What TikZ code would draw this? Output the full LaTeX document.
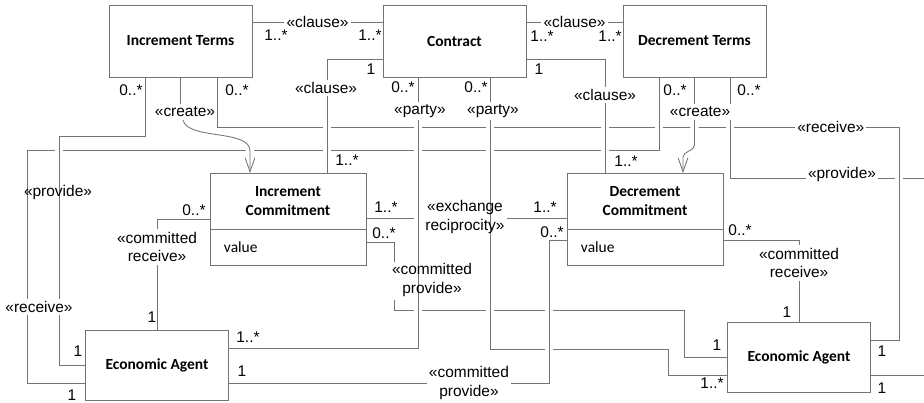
\documentclass[tikz,border=0pt]{standalone}
\usepackage{fontspec}
\setmainfont{Liberation Sans}
\newfontfamily\calibri{Carlito}
\usetikzlibrary{arrows.meta, shapes.multipart, calc}
\colorlet{linegray}{black!55}

\begin{document}
\begin{tikzpicture}[x=0.025cm, y=-0.025cm,
  termbox/.style={rectangle, draw=linegray, fill=white,
                  minimum width=3.575cm, minimum height=1.8cm,
                  font=\fontsize{11}{14}\selectfont\calibri\bfseries},
  agentbox/.style={termbox, minimum height=1.75cm},
  combox/.style={rectangle split, rectangle split parts=2,
                 draw=linegray, fill=white, text width=3.2cm,
                 inner xsep=0.35cm, inner ysep=9pt,
                 font=\fontsize{11}{14}\selectfont\calibri},
  conn/.style={draw=linegray, line width=0.6pt},
  over/.style={preaction={draw=white, line width=6pt, arrows=-,
                          shorten <=4pt, shorten >=4pt}},
  dep/.style={conn, -{Straight Barb[length=10pt, width=7pt]}},
  lbl/.style={fill=white, inner xsep=1.5pt, inner ysep=0pt, align=center,
              font=\fontsize{11}{13}\selectfont},
  bare/.style={lbl, fill=none},
  mult/.style={inner sep=0pt, font=\fontsize{11}{13}\selectfont}
]
\useasboundingbox (0,0) rectangle (924,402);

\node[termbox] (incterms) at (180.5,41) {Increment Terms};
\node[termbox] (contract) at (454.5,41) {Contract};
\node[termbox] (decterms) at (694.5,41) {Decrement Terms};
\node[combox, anchor=north] (inccom) at (288,173)
  {\makebox[3.2cm]{\bfseries Increment}\\\makebox[3.2cm]{\bfseries Commitment}\nodepart{two}value};
\node[combox, anchor=north] (deccom) at (645,173)
  {\makebox[3.2cm]{\bfseries Decrement}\\\makebox[3.2cm]{\bfseries Commitment}\nodepart{two}value};
\node[agentbox] (agentL) at (157,365) {Economic Agent};
\node[agentbox] (agentR) at (799,357.5) {Economic Agent};

\coordinate (rcvturn) at (899,127);
\coordinate (xchl) at (417,218); \coordinate (xchr) at (507,218);
\coordinate (cpvtop) at (394,262); \coordinate (cpvbot) at (394,300);

\draw[conn] ($(incterms.east)+(0,-19)$) -- node[lbl] (lb1) {«clause»} ($(contract.west)+(0,-19)$);
\draw[conn] ($(contract.east)+(0,-19)$) -- node[lbl] (lb2) {«clause»} ($(decterms.west)+(0,-19)$);

\draw[conn] ($(incterms.south)+(36.5,0)$) |- node[lbl, pos=0.95] (lb3) {«receive»} (rcvturn);
\draw[conn, over] ($(decterms.south)+(35.5,0)$) |- (950,178) |- ($(agentR.east)+(0,17.5)$);
\node[lbl] (lb4) at (842,174) {«provide»};
\draw[conn, over] (rcvturn) |- ($(agentR.east)+(0,-17.5)$);
\draw[conn, over] ($(decterms.south)+(-35.5,0)$) |- (27,150) |- ($(agentL.south west)+(0,-17)$);
\draw[conn, over] ($(incterms.south)+(-35.5,0)$) |- (59,136) |- (agentL.west);
\node[bare] (lb5) at (58,192) {«provide»};
\node[lbl, inner ysep=2pt] (lb6) at (39,307) {«receive»};

\draw[conn, over] ($(contract.west)+(0,18)$) -| ($(inccom.north)+(39,0)$);
\node[lbl, inner ysep=2pt] (lb7) at (326,88) {«clause»};
\draw[conn, over] ($(contract.east)+(0,18)$) -| ($(deccom.north)+(-40,0)$);
\node[lbl, inner ysep=2pt] (lb8) at (605,95) {«clause»};

\node[lbl, inner ysep=2pt] (lb9) at (185,112) {«create»};
\draw[conn] (incterms.south) -- (incterms.south |- lb9.north);
\draw[dep, over] ($(lb9.south)+(-2,0)$) .. controls +(5,20) and +(0,-22) .. ($(inccom.north)+(-38,-22)$) -- ($(inccom.north)+(-38,0)$);
\node[lbl, inner ysep=2pt] (lb10) at (700,112) {«create»};
\draw[conn] (decterms.south) -- (decterms.south |- lb10.north);
\draw[dep, over] (decterms.south |- lb10.south) -- ++(0,25) .. controls +(0,6) and +(0,-6) .. ($(deccom.north)+(38,-16)$) -- ($(deccom.north)+(38,0)$);

\draw[conn] ($(inccom.north east)+(0,45)$) -- (xchl);
\draw[conn] (xchr) -- ($(deccom.north west)+(0,45)$);
\draw[conn] ($(inccom.north east)+(0,69)$) -| (cpvtop);
\draw[conn] (cpvbot) |- (684,310) |- (agentR.west);

\draw[conn, over] ($(contract.south)+(-36.5,0)$) |- ($(agentL.east)+(0,-17)$);
\node[lbl, inner ysep=2pt] (lb11) at (420,111) {«party»};
\draw[conn, over] ($(contract.south)+(35.5,0)$) |- (668,349) |- ($(agentR.west)+(0,17.5)$);
\node[lbl, inner ysep=2pt] (lb12) at (493,111) {«party»};
\draw[conn, over] ($(deccom.north west)+(0,67)$) -| (549,383) -- node[lbl, pos=0.25] (lb13) {«committed\\provide»} ($(agentL.east)+(0,18)$);

\draw[conn] ($(inccom.north west)+(0,46)$) -| (agentL.north);
\node[lbl, inner ysep=2pt] (lb14) at (157,247) {«committed\\receive»};
\draw[conn] ($(deccom.north east)+(0,67)$) -| (agentR.north);
\node[lbl, inner ysep=2pt] (lb15) at (799,263) {«committed\\receive»};

\node[bare] (lb16) at (465,217) {«exchange\\reciprocity»};
\node[bare] (lb17) at (432,280) {«committed\\provide»};

\node[mult] (m1) at (276,35) {1..*}; \node[mult] (m2) at (370,35) {1..*};
\node[mult] (m3) at (542,36) {1..*}; \node[mult] (m4) at (610,36) {1..*};
\node[mult] (m5) at (371,69) {1}; \node[mult] (m6) at (539,69) {1};
\node[mult] (m7) at (131,90) {0..*}; \node[mult] (m8) at (237,90) {0..*};
\node[mult] (m9) at (403,87) {0..*}; \node[mult] (m10) at (476,87) {0..*};
\node[mult] (m11) at (675,90) {0..*}; \node[mult] (m12) at (749,90) {0..*};
\node[mult] (m13) at (347,160) {1..*}; \node[mult] (m14) at (626,161) {1..*};
\node[mult] (m15) at (194,210) {0..*}; \node[mult] (m16) at (386,207) {1..*};
\node[mult] (m17) at (384,233) {0..*}; \node[mult] (m18) at (545,207) {1..*};
\node[mult] (m19) at (552,232) {0..*}; \node[mult] (m20) at (740,230) {0..*};
\node[mult] (m21) at (152,317) {1}; \node[mult] (m22) at (78,351) {1};
\node[mult] (m23) at (72,395) {1}; \node[mult] (m24) at (248,337) {1..*};
\node[mult] (m25) at (242,371) {1}; \node[mult] (m26) at (787,312) {1};
\node[mult] (m27) at (717,345) {1}; \node[mult] (m28) at (712,383) {1..*};
\node[mult] (m29) at (882,351) {1}; \node[mult] (m30) at (882,388) {1};
\end{tikzpicture}
\end{document}
